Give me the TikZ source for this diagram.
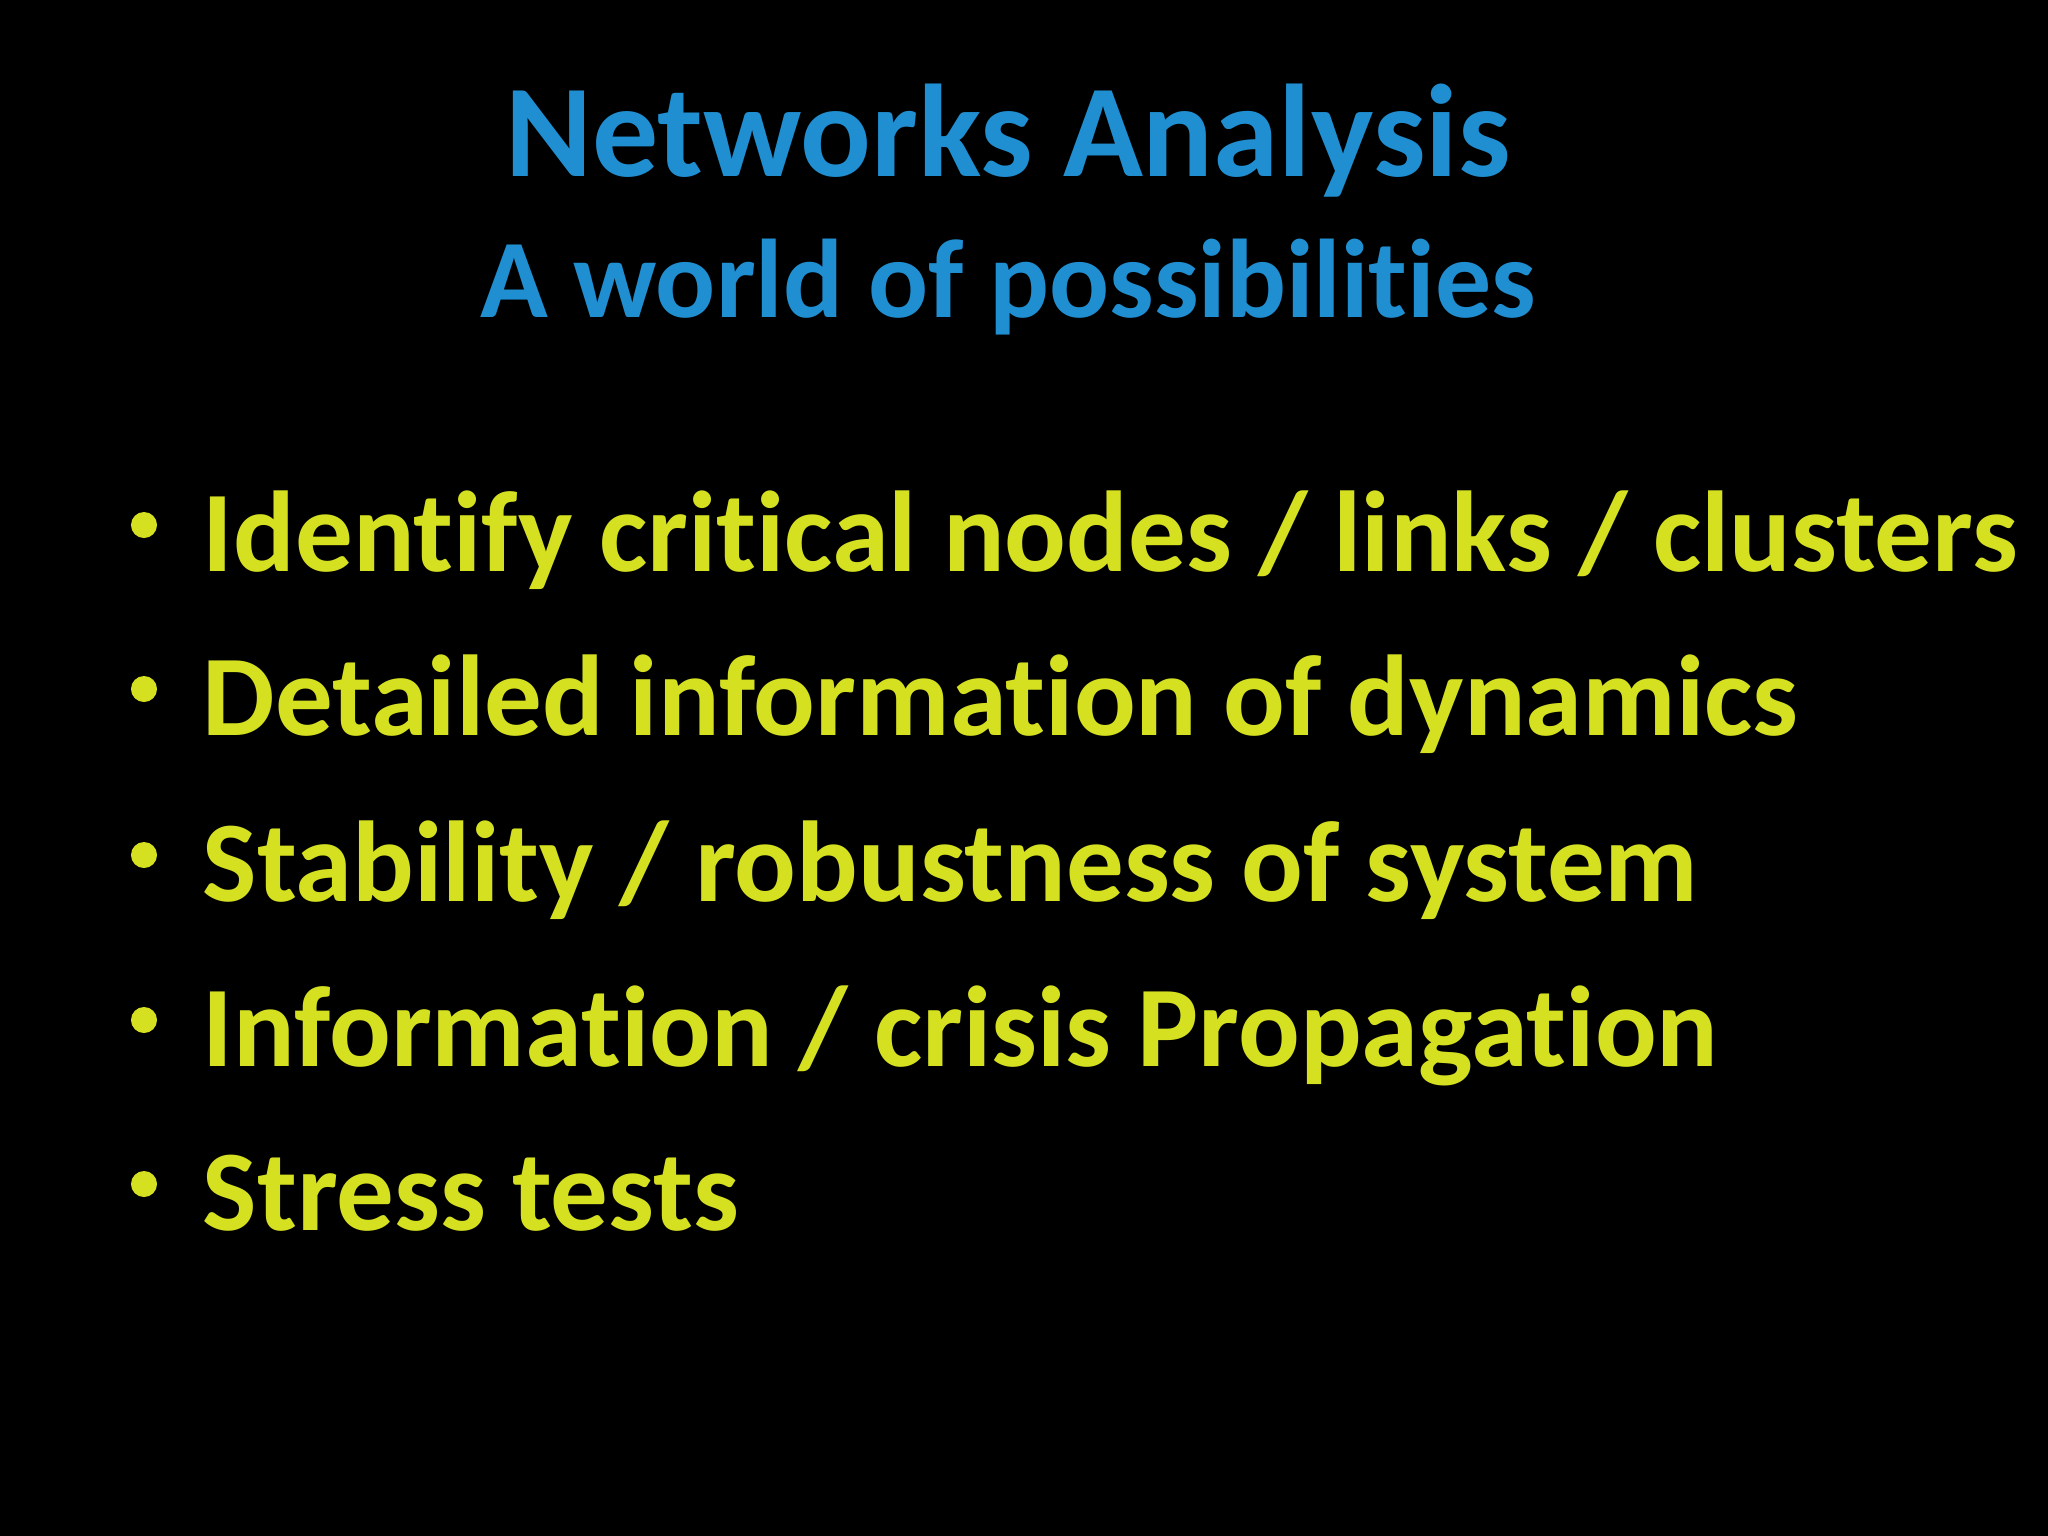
\documentclass[tikz,border=0pt]{standalone}
\usepackage{fontspec}
\setmainfont[Ligatures={NoCommon,NoRequired,NoContextual}]{Carlito}
\definecolor{tblue}{HTML}{1F8FD2}
\definecolor{tyel}{HTML}{D5E021}
\begin{document}
\begin{tikzpicture}[x=0.01cm,y=-0.01cm,
  ttl/.style={inner sep=0,anchor=base,text=tblue,font=\bfseries},
  item/.style={inner sep=0,anchor=base west,text=tyel,font=\fontsize{32.7}{36}\selectfont\bfseries},
  bul/.style={circle,fill=tyel,inner sep=0,minimum size=0.26cm}]
\fill[black] (0,0) rectangle (2048,1536);
\useasboundingbox (0,0) rectangle (2048,1536);
\node[ttl,font=\fontsize{37.5}{40}\selectfont\bfseries] (t1) at (1008,176) {Networks Analysis};
\node[ttl,font=\fontsize{31.8}{34}\selectfont\bfseries] (t2) at (1008,317) {A world of possibilities};
\foreach \y/\t [count=\i] in {571/{Identify critical nodes / links / clusters},
  735/{Detailed information of dynamics},
  901/{Stability / robustness of system},
  1066/{Information / crisis Propagation},
  1230/{Stress tests}}{
  \node[bul] (b\i) at (144,\y-46) {};
  \node[item] (i\i) at (202,\y) {\t};
}
\end{tikzpicture}
\end{document}
